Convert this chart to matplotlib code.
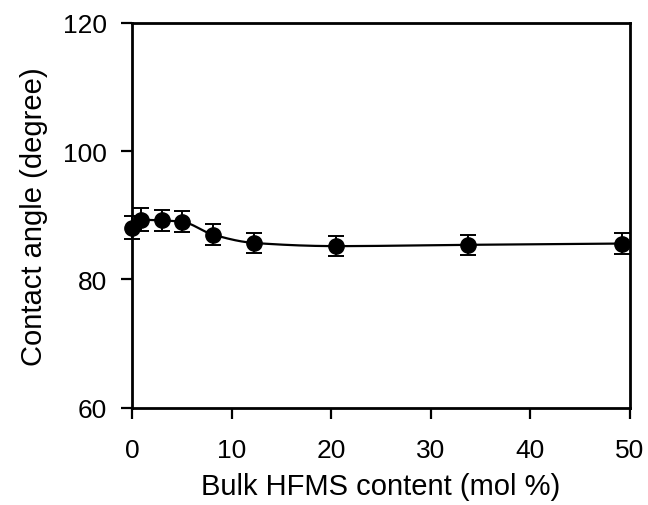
import numpy as np
import matplotlib
matplotlib.use("Agg")
import matplotlib.pyplot as plt

plt.rcParams['font.family'] = ['Liberation Sans', 'DejaVu Sans']

hfms = [0.0, 0.9, 3.0, 5.0, 8.1, 12.2, 20.5, 33.7, 49.2]
angle = [88.1, 89.3, 89.2, 89.0, 87.0, 85.7, 85.2, 85.4, 85.6]
err = [1.8, 1.8, 1.7, 1.6, 1.7, 1.6, 1.6, 1.6, 1.6]
xticks = [0, 10, 20, 30, 40, 50]
yticks = [60, 80, 100, 120]


def pchip(x, y, xn):
    x = np.asarray(x, float); y = np.asarray(y, float)
    h = np.diff(x); d = np.diff(y) / h
    n = len(x); m = np.zeros(n)
    for k in range(1, n - 1):
        if d[k - 1] * d[k] > 0:
            w1 = 2 * h[k] + h[k - 1]; w2 = h[k] + 2 * h[k - 1]
            m[k] = (w1 + w2) / (w1 / d[k - 1] + w2 / d[k])
    m[0] = d[0]; m[-1] = d[-1]
    idx = np.clip(np.searchsorted(x, xn) - 1, 0, n - 2)
    t = (xn - x[idx]) / h[idx]
    h00 = 2 * t**3 - 3 * t**2 + 1; h10 = t**3 - 2 * t**2 + t
    h01 = -2 * t**3 + 3 * t**2; h11 = t**3 - t**2
    return h00 * y[idx] + h10 * h[idx] * m[idx] + h01 * y[idx + 1] + h11 * h[idx] * m[idx + 1]


fig = plt.figure(figsize=(6.48, 5.06), dpi=100)
ax = fig.add_axes([0.204, 0.192, 0.768, 0.761])

xs = np.linspace(hfms[0], hfms[-1], 400)
ax.plot(xs, pchip(hfms, angle, xs), color='black', lw=1.6)
ax.errorbar(hfms, angle, yerr=err, fmt='o', color='black', ms=11,
            capsize=6, elinewidth=1.4, capthick=1.4)

ax.set_xlim(0, 50)
ax.set_ylim(60, 120)
ax.set_xticks(xticks)
ax.set_yticks(yticks)
ax.tick_params(direction='out', length=8, width=1.6, labelsize=19)
ax.tick_params(axis='x', pad=14)
ax.tick_params(axis='y', pad=10)
for s in ax.spines.values():
    s.set_linewidth(2)
ax.set_xlabel('Bulk HFMS content (mol %)', fontsize=21, labelpad=7)
ax.set_ylabel('Contact angle (degree)', fontsize=21, labelpad=11)
for a in ax.get_children():
    try:
        a.set_clip_on(False)
    except Exception:
        pass

fig.savefig('out.png', dpi=100)
